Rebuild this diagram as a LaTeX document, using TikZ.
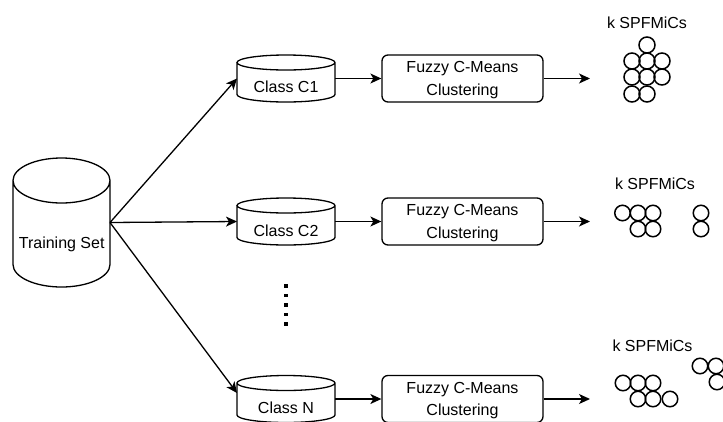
\documentclass[tikz,border=0pt]{standalone}
\usepackage{fontspec}
\setmainfont{Liberation Sans}
\usetikzlibrary{arrows.meta}
\begin{document}
\begin{tikzpicture}[x=1pt,y=1pt,
  line width=1.3pt,
  arr/.style={-{Stealth[length=11pt,width=10pt,inset=3pt]}, line width=1.3pt},
  lbl/.style={font=\fontsize{16}{22.7}\selectfont, inner sep=0pt, text depth=0pt},
  procbox/.style={draw, rounded corners=6pt, minimum width=161pt, minimum height=47pt, inner sep=0pt, align=center, font=\fontsize{16}{22.7}\selectfont, text depth=0pt, line width=1.3pt},
  frame/.style={inner sep=0pt, outer sep=0pt},
  mic/.style={draw, circle, minimum size=16pt, inner sep=0pt, line width=1.5pt},
  micb/.style={draw, circle, minimum size=15.5pt, inner sep=0pt, line width=1.5pt},
  sqdot/.style={fill, rectangle, minimum size=3.2pt, inner sep=0pt}
]
\fill[white] (0,0) rectangle (723,-421);
\useasboundingbox (0,0) rectangle (723,-421);

% Training set cylinder
\draw[fill=white] (13,-180.5) -- (13,-264.5) arc[start angle=180,end angle=360,x radius=48.5,y radius=22.5] -- (110,-180.5) arc[start angle=0,end angle=180,x radius=48.5,y radius=22.5] arc[start angle=180,end angle=360,x radius=48.5,y radius=22.5];
\node[frame, minimum width=97pt, minimum height=129pt] (ts) at (61.5,-222.5) {};
\node[lbl] (tsl) at (61.7,-242.7) {Training Set};

% Class cylinders
\draw[fill=white] (237,-62.5) -- (237,-94.5) arc[start angle=180,end angle=360,x radius=49,y radius=7.5] -- (335,-62.5) arc[start angle=0,end angle=180,x radius=49,y radius=7.5] arc[start angle=180,end angle=360,x radius=49,y radius=7.5];
\node[frame, minimum width=98pt, minimum height=47pt] (c1) at (286,-78.5) {};
\node[lbl] (c1l) at (286,-86.5) {Class C1};

\draw[fill=white] (237,-205.5) -- (237,-237.5) arc[start angle=180,end angle=360,x radius=49,y radius=7.5] -- (335,-205.5) arc[start angle=0,end angle=180,x radius=49,y radius=7.5] arc[start angle=180,end angle=360,x radius=49,y radius=7.5];
\node[frame, minimum width=98pt, minimum height=47pt] (c2) at (286,-221.5) {};
\node[lbl] (c2l) at (286,-230.5) {Class C2};

\draw[fill=white] (237,-383) -- (237,-415) arc[start angle=180,end angle=360,x radius=49,y radius=7.5] -- (335,-383) arc[start angle=0,end angle=180,x radius=49,y radius=7.5] arc[start angle=180,end angle=360,x radius=49,y radius=7.5];
\node[frame, minimum width=98pt, minimum height=47pt] (cN) at (286,-399) {};
\node[lbl] (cNl) at (286,-407.5) {Class N};

% Dots
\foreach \i/\yy in {1/286,2/295.5,3/305,4/314.5,5/324}
  \node[sqdot] (dot\i) at (286,-\yy) {};

% Process boxes
\node[procbox] (f1) at (462.5,-78.5) {Fuzzy C-Means\\Clustering};
\node[procbox] (f2) at (462.5,-221.5) {Fuzzy C-Means\\Clustering};
\node[procbox] (f3) at (462.5,-399) {Fuzzy C-Means\\Clustering};

% Arrows
\draw[arr] (ts.east) -- (c1.west);
\draw[arr] (ts.east) -- (c2.west);
\draw[arr] (ts.east) -- (cN.173);
\draw[arr] (c1.east) -- (f1.west);
\draw[arr] (c2.east) -- (f2.west);
\draw[arr] (cN.east) -- (f3.west);
\coordinate (e1) at (590,-78.5);
\coordinate (e2) at (590,-221.5);
\coordinate (e3) at (590,-399);
\draw[arr] (f1.east) -- (e1);
\draw[arr] (f2.east) -- (e2);
\draw[arr] (f3.east) -- (e3);

% Cluster 1
\node[lbl] (k1) at (647,-23) {k SPFMiCs};
\node[mic] (a1) at (647,-45) {};
\node[mic] (a2) at (632,-61) {};
\node[mic] (a3) at (647,-61) {};
\node[mic] (a4) at (662,-61) {};
\node[mic] (a5) at (632,-77) {};
\node[mic] (a6) at (647,-77) {};
\node[mic] (a7) at (662,-77) {};
\node[mic] (a8) at (632,-94) {};
\node[mic] (a9) at (647,-94) {};

% Cluster 2
\node[lbl] (k2) at (655,-184) {k SPFMiCs};
\node[micb] (b1) at (622.5,-213) {};
\node[micb] (b2) at (638,-213) {};
\node[micb] (b3) at (653,-213) {};
\node[micb] (b4) at (638,-229) {};
\node[micb] (b5) at (653,-229) {};
\node[micb] (b6) at (701,-213) {};
\node[micb] (b7) at (701,-229) {};

% Cluster 3
\node[lbl] (k3) at (652.5,-346) {k SPFMiCs};
\node[micb] (g1) at (623,-383) {};
\node[micb] (g2) at (638,-383) {};
\node[micb] (g3) at (653,-383) {};
\node[micb] (g4) at (638,-399) {};
\node[micb] (g5) at (653,-399) {};
\node[micb] (g6) at (670,-399) {};
\node[micb] (g7) at (700,-366) {};
\node[micb] (g8) at (716,-366) {};
\node[micb] (g9) at (717,-382) {};
\end{tikzpicture}
\end{document}
